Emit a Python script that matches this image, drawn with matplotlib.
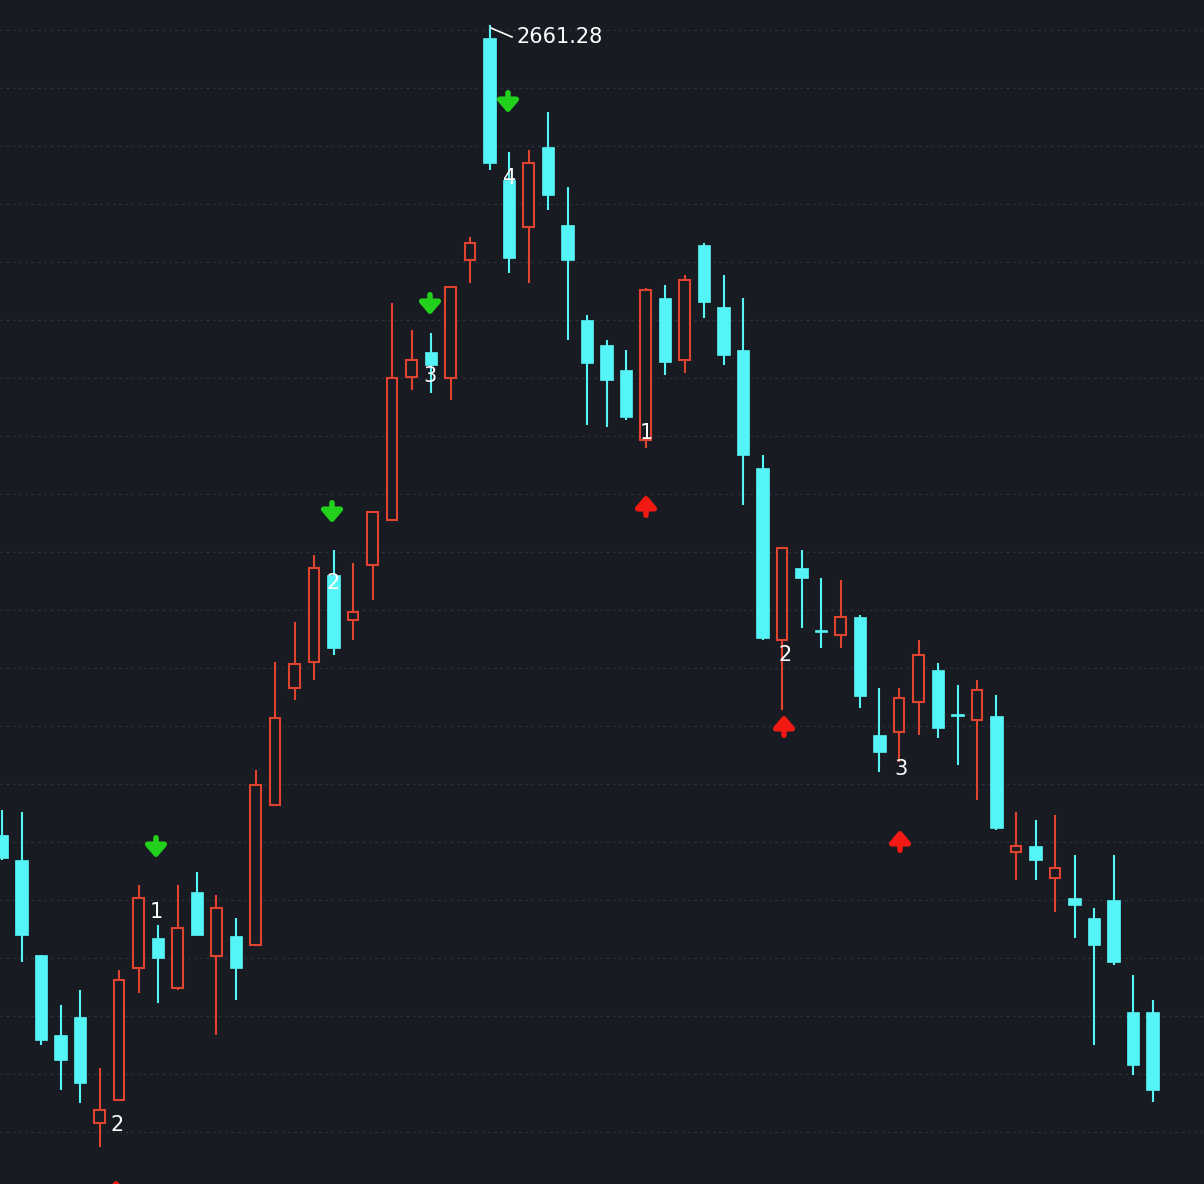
import matplotlib
matplotlib.use("Agg")
import matplotlib.pyplot as plt
import numpy as np

# OHLC values (price units)
opens  = [2700-v for v in [835,860,955,1035,1017,1123,1100,968,938,988,892,956,936,945,805,688,662,575,620,565,520,377,352,378,260,38,180,227,147,225,320,345,370,440,298,360,245,307,350,468,640,568,630,635,617,735,732,702,670,714,720,716,852,846,878,898,918,900,1012,1012]]
closes = [2700-v for v in [858,935,1040,1060,1083,1110,980,898,958,928,935,908,968,785,718,664,568,648,612,512,378,360,365,287,243,163,258,163,195,260,363,380,417,290,362,280,302,355,455,638,548,578,632,617,696,752,698,655,728,716,690,828,846,860,868,905,945,962,1065,1090]]
highs  = [2700-v for v in [810,812,955,1005,990,1068,970,885,925,885,872,895,918,770,662,622,555,550,563,512,303,330,333,287,237,25,152,150,112,187,315,340,350,288,285,275,243,275,298,455,548,550,578,580,615,688,688,640,663,685,680,695,812,820,815,855,908,855,975,1000]]
lows   = [2700-v for v in [860,962,1045,1090,1103,1147,1100,993,1003,990,935,1035,1000,945,805,700,680,655,640,600,520,390,393,400,283,170,273,283,210,340,425,427,420,448,375,373,318,365,505,640,710,628,648,648,708,772,762,735,738,765,800,830,880,880,912,938,1045,965,1075,1102]]

down_arrows = [(156, 848), (332, 513), (430, 305), (508, 103)]
up_arrows = [(646, 505), (784, 725), (900, 840), (116, 1190)]
labels = [("1", 156, 912), ("2", 117, 1125), ("2", 333, 583), ("3", 430, 376),
          ("4", 510, 178), ("1", 646, 433), ("2", 785, 655), ("3", 901, 769)]
peak_label = "2661.28"

BG = "#181b22"
RED = "#e0442f"
CYAN = "#55f5f7"
STEP = 19.6

fig = plt.figure(figsize=(12.04, 11.84), dpi=100, facecolor=BG)
ax = fig.add_axes([0, 0, 1, 1], facecolor=BG)
ax.set_xlim(0, 1204/STEP)
ax.set_ylim(2700-1184, 2700)
ax.axis("off")

def px(x): return x/STEP
def py(y): return 2700-y

for k in range(20):
    ax.axhline(py(30+58*k), color="#2e323b", lw=0.9, ls=(0, (2, 3)), zorder=0)

idx = np.arange(len(opens))
for i in idx:
    o, c, h, l = opens[i], closes[i], highs[i], lows[i]
    x = (2 + i*19.5)/STEP
    up = c > o
    col = RED if up else CYAN
    ax.vlines(x, l, h, color=col, lw=1.5, zorder=1)
    bot, top = min(o, c), max(o, c)
    hgt = max(top-bot, 2)
    if up:
        ax.bar(x, hgt, bottom=bot, width=0.55, facecolor=BG, edgecolor=col, lw=1.5, zorder=2)
    else:
        ax.bar(x, hgt, bottom=bot, width=0.62, facecolor=col, edgecolor=col, lw=0.5, zorder=2)

for (x, y) in down_arrows:
    ax.annotate("", xy=(px(x), py(y+13)), xytext=(px(x), py(y-13)),
                arrowprops=dict(arrowstyle="-|>,head_width=0.6,head_length=0.7", color="#22d11c", lw=4), zorder=3)
for (x, y) in up_arrows:
    ax.annotate("", xy=(px(x), py(y-13)), xytext=(px(x), py(y+13)),
                arrowprops=dict(arrowstyle="-|>,head_width=0.6,head_length=0.7", color="#f21a12", lw=4), zorder=3)
for (t, x, y) in labels:
    ax.text(px(x), py(y), t, color="white", fontsize=15, ha="center", va="center", zorder=4)

ax.plot([px(491), px(512)], [py(28), py(37)], color="white", lw=1.2, zorder=4)
ax.text(px(516), py(37), peak_label, color="white", fontsize=15, ha="left", va="center", zorder=4)

fig.savefig("out.png", dpi=100, facecolor=BG)
